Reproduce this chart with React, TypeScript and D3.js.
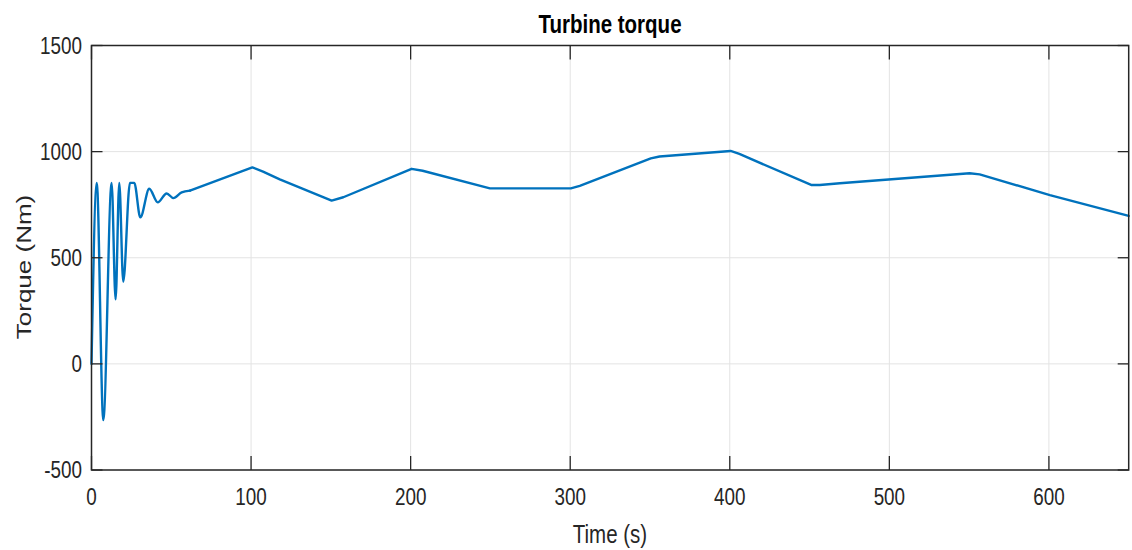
import React from "react";
import * as d3 from "d3";

const timeS = [0, 3.3, 7.4, 12.6, 15.1, 17.4, 19.9, 24.1, 26.8, 30.6, 36.2, 41.5, 47.1, 51.3, 56.5, 61.7, 100.8, 107.5, 118, 150.5, 157.8, 200.6, 207.5, 249.7, 300.4, 306, 350.5, 356, 400.5, 406, 451, 456.4, 469, 550.3, 556.6, 600.6, 650];
const torqueNm = [0, 853, -265, 853, 304, 853, 387, 853, 853, 690, 825, 761, 803, 781, 808, 816, 926, 906, 869, 769, 785, 919, 910, 827, 827, 839, 968, 977, 1003, 989, 843, 843, 851, 898, 893, 795, 697];

const xTicks = [0, 100, 200, 300, 400, 500, 600];
const yTicks = [-500, 0, 500, 1000, 1500];

const W = 1132;
const H = 550;
const M = { left: 91.5, right: 1128.7, top: 45.5, bottom: 470 };
const SX = 0.82;
const FONT = "'Liberation Sans', Arial, Helvetica, sans-serif";
const AXIS = "#262626";
const SPLIT = 15; // oscillation part ends here (smooth), after that piecewise straight

export default function App() {
  const x = d3.scaleLinear().domain([0, 650]).range([M.left, M.right]);
  const y = d3.scaleLinear().domain([-500, 1500]).range([M.bottom, M.top]);
  const data = timeS.map((t, i) => [t, torqueNm[i]] as [number, number]);
  const smooth = d3
    .line<[number, number]>()
    .x((d) => x(d[0]))
    .y((d) => y(d[1]))
    .curve(d3.curveMonotoneX);
  const straight = d3
    .line<[number, number]>()
    .x((d) => x(d[0]))
    .y((d) => y(d[1]));

  return (
    <svg width={W} height={H} style={{ position: "absolute", left: 0, top: 0, background: "#fff" }}>
      <rect x={0} y={0} width={W} height={H} fill="#fff" />
      {xTicks.map((t) => (
        <line key={"gx" + t} x1={x(t)} x2={x(t)} y1={M.top} y2={M.bottom} stroke="#e3e3e3" strokeWidth={1} />
      ))}
      {yTicks.map((t) => (
        <line key={"gy" + t} x1={M.left} x2={M.right} y1={y(t)} y2={y(t)} stroke="#e3e3e3" strokeWidth={1} />
      ))}
      <path d={smooth(data.slice(0, SPLIT + 1)) || ""} fill="none" stroke="#0072BD" strokeWidth={2.4} strokeLinejoin="round" strokeLinecap="round" />
      <path d={straight(data.slice(SPLIT)) || ""} fill="none" stroke="#0072BD" strokeWidth={2.4} strokeLinejoin="round" strokeLinecap="round" />
      <rect x={M.left} y={M.top} width={M.right - M.left} height={M.bottom - M.top} fill="none" stroke={AXIS} strokeWidth={1.5} />
      {xTicks.map((t) => (
        <g key={"tx" + t}>
          <line x1={x(t)} x2={x(t)} y1={M.bottom} y2={M.bottom - 14} stroke={AXIS} strokeWidth={1.3} />
          <line x1={x(t)} x2={x(t)} y1={M.top} y2={M.top + 14} stroke={AXIS} strokeWidth={1.3} />
        </g>
      ))}
      {yTicks.map((t) => (
        <g key={"ty" + t}>
          <line x1={M.left} x2={M.left + 11} y1={y(t)} y2={y(t)} stroke={AXIS} strokeWidth={1.3} />
          <line x1={M.right} x2={M.right - 11} y1={y(t)} y2={y(t)} stroke={AXIS} strokeWidth={1.3} />
        </g>
      ))}
      {xTicks.map((t) => (
        <text
          key={"lx" + t}
          transform={`translate(${x(t)},505) scale(${SX},1)`}
          textAnchor="middle"
          fontFamily={FONT}
          fontSize={23}
          fill={AXIS}
        >
          {t}
        </text>
      ))}
      {yTicks.map((t) => (
        <text
          key={"ly" + t}
          transform={`translate(82,${y(t) + 8.3}) scale(${SX},1)`}
          textAnchor="end"
          fontFamily={FONT}
          fontSize={23}
          fill={AXIS}
        >
          {t}
        </text>
      ))}
      <text
        transform={`translate(610,543) scale(${SX},1)`}
        textAnchor="middle"
        fontFamily={FONT}
        fontSize={25}
        fill={AXIS}
      >
        Time (s)
      </text>
      <text
        transform={`translate(31,267) scale(0.8,1) rotate(-90)`}
        textAnchor="middle"
        fontFamily={FONT}
        fontSize={26}
        fill={AXIS}
      >
        Torque (Nm)
      </text>
      <text
        transform={`translate(610,33) scale(${SX},1)`}
        textAnchor="middle"
        fontFamily={FONT}
        fontSize={25}
        fontWeight="bold"
        fill="#000"
      >
        Turbine torque
      </text>
    </svg>
  );
}
